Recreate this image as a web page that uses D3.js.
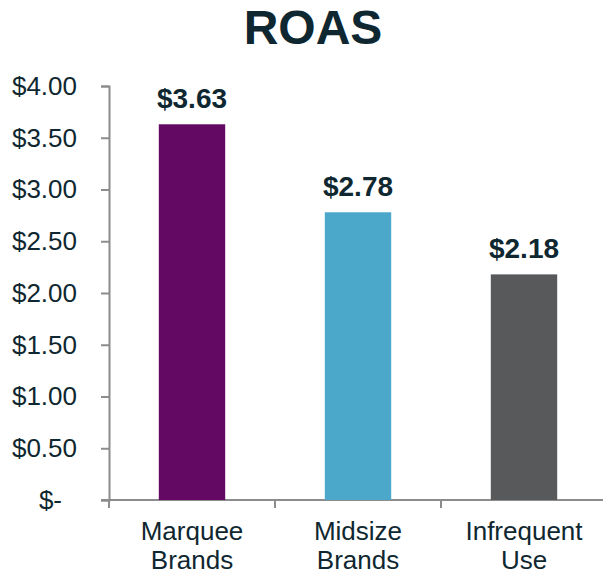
<!DOCTYPE html>
<html>
<head>
<meta charset="utf-8">
<script src="https://cdn.jsdelivr.net/npm/d3@7"></script>
<style>
  body { margin: 0; background: #fff; }
  svg text { font-family: 'Liberation Sans', Arial, sans-serif; fill: #0f2730; }
</style>
</head>
<body>
<svg id="chart" width="603" height="575"></svg>
<script>
// chart data
const categories = [['Marquee', 'Brands'], ['Midsize', 'Brands'], ['Infrequent', 'Use']]
const roas = [3.63, 2.78, 2.18]
const barColors = ['#630863', '#4ba8cb', '#58595b']
const yTicks = [0, 0.5, 1, 1.5, 2, 2.5, 3, 3.5, 4]

const svg = d3.select('#chart')
const axisColor = '#8c8c8c'

// title
svg.append('text')
  .attr('x', 313)
  .attr('y', 44)
  .attr('text-anchor', 'middle')
  .style('font-size', '48px')
  .style('font-weight', 'bold')
  .text('ROAS')

const y = d3.scaleLinear().domain([0, 4]).range([500, 86])
const x = d3.scaleBand()
  .domain(d3.range(categories.length))
  .range([109, 607])
  .paddingInner(0.6)
  .paddingOuter(0.3)

// y axis
const yAxis = svg.append('g')
  .attr('transform', 'translate(109,0)')
  .call(d3.axisLeft(y)
    .tickValues(yTicks)
    .tickSize(8)
    .tickPadding(24)
    .tickFormat(d => d === 0 ? '$-' : '$' + d.toFixed(2)))
yAxis.select('.domain').attr('stroke', axisColor).attr('stroke-width', 2)
yAxis.selectAll('.tick line').attr('stroke', axisColor).attr('stroke-width', 2)
yAxis.selectAll('.tick text')
  .style('font-size', '26px')
  .attr('fill', '#0f2730')
  .attr('x', d => d === 0 ? -47 : -32) // the "$-" label sits further in

// x axis baseline and band boundary ticks
svg.append('line')
  .attr('x1', 101).attr('x2', 603)
  .attr('y1', y(0)).attr('y2', y(0))
  .attr('stroke', axisColor).attr('stroke-width', 2)

const bounds = d3.range(categories.length + 1).map(i => 109 + i * x.step())
svg.selectAll('.xtick')
  .data(bounds)
  .enter()
  .append('line')
  .attr('class', 'xtick')
  .attr('x1', d => d).attr('x2', d => d)
  .attr('y1', y(0)).attr('y2', y(0) + 8)
  .attr('stroke', axisColor).attr('stroke-width', 2)

// bars
svg.selectAll('.bar')
  .data(roas)
  .enter()
  .append('rect')
  .attr('class', 'bar')
  .attr('x', (d, i) => x(i))
  .attr('y', d => y(d))
  .attr('width', x.bandwidth())
  .attr('height', d => y(0) - y(d))
  .attr('fill', (d, i) => barColors[i])

// value labels
svg.selectAll('.val')
  .data(roas)
  .enter()
  .append('text')
  .attr('class', 'val')
  .attr('x', (d, i) => x(i) + x.bandwidth() / 2)
  .attr('y', d => y(d) - 16)
  .attr('text-anchor', 'middle')
  .style('font-size', '28px')
  .style('font-weight', 'bold')
  .text(d => '$' + d.toFixed(2))

// category labels, two lines each
const cat = svg.selectAll('.cat')
  .data(categories)
  .enter()
  .append('text')
  .attr('class', 'cat')
  .attr('text-anchor', 'middle')
  .style('font-size', '26px')

cat.selectAll('tspan')
  .data((d, i) => d.map(t => ({ t, i })))
  .enter()
  .append('tspan')
  .attr('x', d => x(d.i) + x.bandwidth() / 2)
  .attr('y', (d, j) => 540 + j * 29)
  .text(d => d.t)
</script>
</body>
</html>
